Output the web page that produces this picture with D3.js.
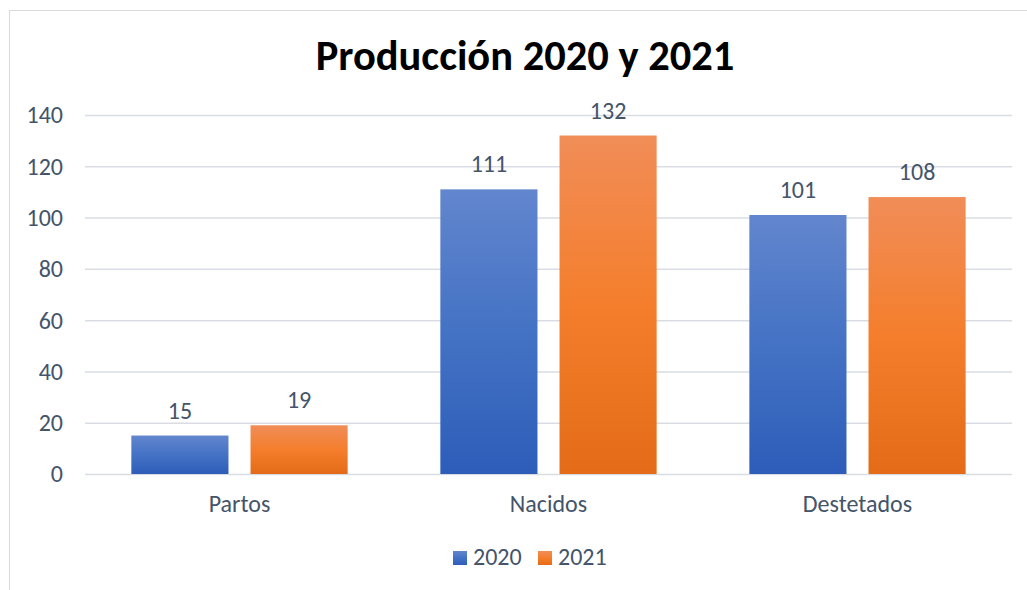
<!DOCTYPE html>
<html><head><meta charset="utf-8">
<script src="https://cdn.jsdelivr.net/npm/d3@7"></script>
<style>
html,body{margin:0;padding:0;background:#fff;}
svg text{font-family:Carlito,Lato,"Open Sans",sans-serif;}
</style></head>
<body><svg id="c" width="1027" height="590"></svg>
<script>
const categories = ["Partos","Nacidos","Destetados"];
const seriesNames = ["2020","2021"];
const values2020 = [15,111,101];
const values2021 = [19,132,108];
const yTicks = [0,20,40,60,80,100,120,140];
const title = "Producción 2020 y 2021";

const svg = d3.select("#c");
const textColor="#44546A";
const fs=24;

// frame
svg.append("rect").attr("x",9.5).attr("y",10.5).attr("width",1030).attr("height",600)
  .attr("fill","#fff").attr("stroke","#D9D9D9").attr("stroke-width",1);

const defs=svg.append("defs");
const grads=[["g0","#6286CE","#4472C4","#2D5DB9"],["g1","#F18D58","#F47E2C","#E46C18"]];
grads.forEach(([id,a,b,c])=>{
  const g=defs.append("linearGradient").attr("id",id).attr("x1",0).attr("y1",0).attr("x2",0).attr("y2",1);
  g.append("stop").attr("offset","0%").attr("stop-color",a);
  g.append("stop").attr("offset","50%").attr("stop-color",b);
  g.append("stop").attr("offset","100%").attr("stop-color",c);
});

const y=d3.scaleLinear().domain([0,140]).range([474,115]);
const x0=d3.scaleBand().domain(categories).range([85,1012]).paddingInner(0.3).paddingOuter(0.15);
const x1=d3.scaleBand().domain(seriesNames).range([0,x0.bandwidth()]).paddingInner(0.185);

// grid
const gy=svg.append("g").attr("transform","translate(85,0)")
  .call(d3.axisLeft(y).tickValues(yTicks).tickSize(-(1012-85)).tickFormat(d3.format("d")));
gy.select(".domain").remove();
gy.selectAll(".tick line").attr("stroke","#D9DDE3").attr("stroke-width",1.5);
gy.selectAll(".tick text").attr("x",-22).attr("dy","0.33em").attr("fill",textColor).attr("font-size",fs);

const data=categories.map((c,i)=>({c,vals:[values2020[i],values2021[i]]}));
const grp=svg.append("g").selectAll("g").data(data).join("g")
  .attr("transform",d=>`translate(${x0(d.c)},0)`);
grp.selectAll("rect").data(d=>d.vals.map((v,j)=>({s:seriesNames[j],v,j}))).join("rect")
  .attr("x",d=>x1(d.s)).attr("width",x1.bandwidth())
  .attr("y",d=>y(d.v)).attr("height",d=>y(0)-y(d.v))
  .attr("fill",d=>`url(#g${d.j})`);
grp.selectAll("text").data(d=>d.vals.map((v,j)=>({s:seriesNames[j],v,j}))).join("text")
  .attr("x",d=>x1(d.s)+x1.bandwidth()/2).attr("y",d=>y(d.v)-17)
  .attr("text-anchor","middle").attr("fill",textColor).attr("font-size",fs).text(d=>d.v);

// x axis labels
const gx=svg.append("g").attr("transform","translate(0,474)")
  .call(d3.axisBottom(x0).tickSize(0).tickPadding(0));
gx.select(".domain").remove();
gx.selectAll(".tick text").attr("y",38).attr("dy",0).attr("fill",textColor).attr("font-size",fs);

// title
svg.append("text").attr("x",525).attr("y",70).attr("text-anchor","middle")
  .attr("font-weight","bold").attr("font-size",42.5).attr("fill","#000").text(title);

// legend
const lg=svg.append("g");
const lx=[453,538];
seriesNames.forEach((s,j)=>{
  lg.append("rect").attr("x",lx[j]).attr("y",551).attr("width",14).attr("height",14).attr("fill",`url(#g${j})`);
  lg.append("text").attr("x",lx[j]+20).attr("y",565).attr("fill",textColor).attr("font-size",fs).text(s);
});
</script></body></html>
